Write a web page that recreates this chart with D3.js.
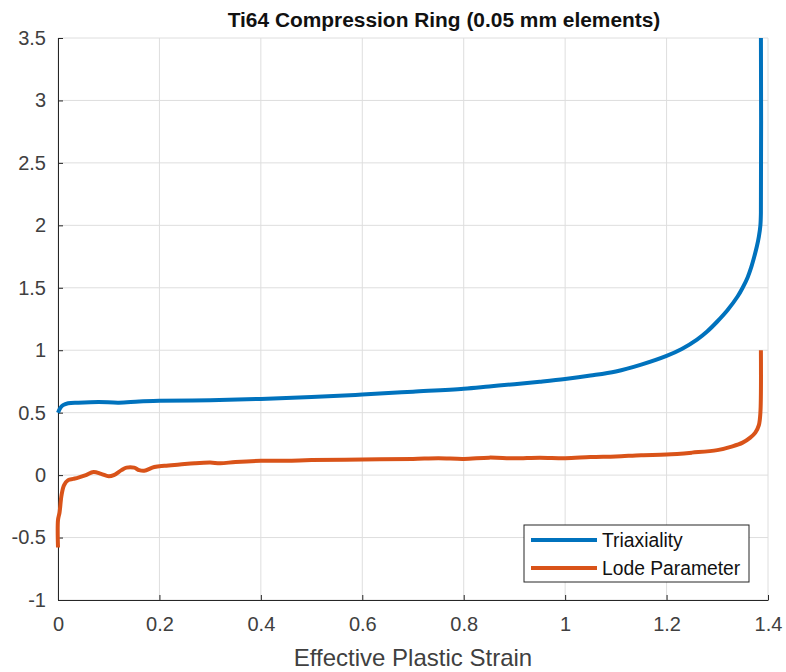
<!DOCTYPE html>
<html>
<head>
<meta charset="utf-8">
<script src="https://cdn.jsdelivr.net/npm/d3@7"></script>
<style>
  body { margin: 0; background: #fff; }
  text { font-family: "Liberation Sans", Arial, Helvetica, sans-serif; }
</style>
</head>
<body>
<div id="chart"></div>
<script>
// Data
var triaxStrain = [0, 0.005, 0.01, 0.02, 0.04, 0.08, 0.12, 0.16, 0.2, 0.3, 0.4, 0.5, 0.6, 0.7, 0.8, 0.85, 0.9, 0.95, 1.0, 1.05, 1.1, 1.15, 1.2, 1.23, 1.26, 1.28, 1.3, 1.32, 1.34, 1.35, 1.36, 1.367, 1.373, 1.378, 1.382, 1.385, 1.386, 1.386];
var triaxValue  = [0.5, 0.54, 0.56, 0.575, 0.58, 0.585, 0.58, 0.59, 0.595, 0.60, 0.61, 0.625, 0.645, 0.668, 0.692, 0.71, 0.728, 0.748, 0.77, 0.797, 0.83, 0.885, 0.955, 1.01, 1.085, 1.15, 1.23, 1.32, 1.43, 1.5, 1.585, 1.665, 1.75, 1.83, 1.91, 2.0, 2.1, 3.6];

var lodeStrain = [0, 0, 0.003, 0.007, 0.012, 0.02, 0.03, 0.04, 0.055, 0.07, 0.085, 0.1, 0.11, 0.125, 0.135, 0.15, 0.16, 0.17, 0.19, 0.21, 0.24, 0.27, 0.3, 0.32, 0.35, 0.4, 0.45, 0.5, 0.6, 0.7, 0.75, 0.8, 0.85, 0.9, 0.95, 1.0, 1.05, 1.1, 1.15, 1.2, 1.25, 1.3, 1.33, 1.35, 1.365, 1.375, 1.382, 1.385, 1.386];
var lodeValue  = [-0.58, -0.36, -0.3, -0.16, -0.08, -0.04, -0.03, -0.02, 0.0, 0.025, 0.01, -0.01, 0.0, 0.04, 0.06, 0.06, 0.04, 0.035, 0.065, 0.075, 0.085, 0.095, 0.1, 0.095, 0.105, 0.115, 0.115, 0.12, 0.125, 0.13, 0.135, 0.13, 0.14, 0.135, 0.14, 0.135, 0.145, 0.15, 0.16, 0.165, 0.18, 0.2, 0.23, 0.26, 0.3, 0.34, 0.4, 0.5, 1.0];

var xTicks = [0, 0.2, 0.4, 0.6, 0.8, 1, 1.2, 1.4];
var yTicks = [-1, -0.5, 0, 0.5, 1, 1.5, 2, 2.5, 3, 3.5];
var seriesNames = ["Triaxiality", "Lode Parameter"];
var seriesColors = ["#0072BD", "#D95319"];

var W = 786, H = 672;
var margin = { top: 38, right: 18, bottom: 72, left: 58 };

var svg = d3.select("#chart").append("svg")
    .attr("width", W)
    .attr("height", H);

var x = d3.scaleLinear().domain([0, 1.4]).range([margin.left, W - margin.right]);
var y = d3.scaleLinear().domain([-1, 3.5]).range([H - margin.bottom, margin.top]);

var fmt = function(d) { return String(+d.toFixed(1)); };

// Grid lines
svg.append("g").selectAll("line")
    .data(xTicks)
    .enter().append("line")
    .attr("x1", d => x(d)).attr("x2", d => x(d))
    .attr("y1", y(-1)).attr("y2", y(3.5))
    .style("stroke", "#dedede")
    .style("stroke-width", 1);

svg.append("g").selectAll("line")
    .data(yTicks)
    .enter().append("line")
    .attr("x1", x(0)).attr("x2", x(1.4))
    .attr("y1", d => y(d)).attr("y2", d => y(d))
    .style("stroke", "#dedede")
    .style("stroke-width", 1);

// Axes
var xAxis = svg.append("g")
    .attr("transform", "translate(0," + y(-1) + ")")
    .call(d3.axisBottom(x).tickValues(xTicks).tickFormat(fmt).tickSizeInner(-5).tickSizeOuter(0).tickPadding(17));
var yAxis = svg.append("g")
    .attr("transform", "translate(" + x(0) + ",0)")
    .call(d3.axisLeft(y).tickValues(yTicks).tickFormat(fmt).tickSizeInner(-5).tickSizeOuter(0).tickPadding(12));

[xAxis, yAxis].forEach(function(a) {
    a.select(".domain").style("stroke", "#262626");
    a.selectAll(".tick line").style("stroke", "#262626");
    a.selectAll("text")
        .style("font-size", "20px")
        .style("fill", "#404040")
        .style("font-family", "'Liberation Sans', Arial, sans-serif");
});

// Clip lines at the top of the axes
svg.append("clipPath").attr("id", "clip")
    .append("rect")
    .attr("x", 0).attr("y", margin.top)
    .attr("width", W).attr("height", H - margin.top);

var line = d3.line()
    .x(d => x(d[0]))
    .y(d => y(d[1]))
    .curve(d3.curveCatmullRom.alpha(0.5));

var triaxData = triaxStrain.map((s, i) => [s, triaxValue[i]]);
var lodeData = lodeStrain.map((s, i) => [s, lodeValue[i]]);

svg.append("g").attr("clip-path", "url(#clip)")
    .selectAll("path")
    .data([triaxData, lodeData])
    .enter().append("path")
    .attr("d", line)
    .style("fill", "none")
    .style("stroke", (d, i) => seriesColors[i])
    .style("stroke-width", 4)
    .style("stroke-linejoin", "round");

// Title
svg.append("text")
    .attr("x", 444)
    .attr("y", 27)
    .attr("text-anchor", "middle")
    .style("font-size", "20.9px")
    .style("font-weight", "bold")
    .style("fill", "#111")
    .text("Ti64 Compression Ring (0.05 mm elements)");

// X label
svg.append("text")
    .attr("x", (x(0) + x(1.4)) / 2)
    .attr("y", 666)
    .attr("text-anchor", "middle")
    .style("font-size", "24px")
    .style("fill", "#404040")
    .text("Effective Plastic Strain");

// Legend
var legend = svg.append("g").attr("transform", "translate(524,525)");
legend.append("rect")
    .attr("width", 225).attr("height", 57)
    .style("fill", "#fff")
    .style("stroke", "#262626")
    .style("stroke-width", 1);

var items = legend.selectAll(".item")
    .data(seriesNames)
    .enter().append("g")
    .attr("class", "item")
    .attr("transform", (d, i) => "translate(0," + (15 + i * 28) + ")");
items.append("line")
    .attr("x1", 7).attr("x2", 73)
    .style("stroke", (d, i) => seriesColors[i])
    .style("stroke-width", 4);
items.append("text")
    .attr("x", 78).attr("y", 7)
    .style("font-size", "19.3px")
    .style("fill", "#111")
    .text(d => d);
</script>
</body>
</html>
